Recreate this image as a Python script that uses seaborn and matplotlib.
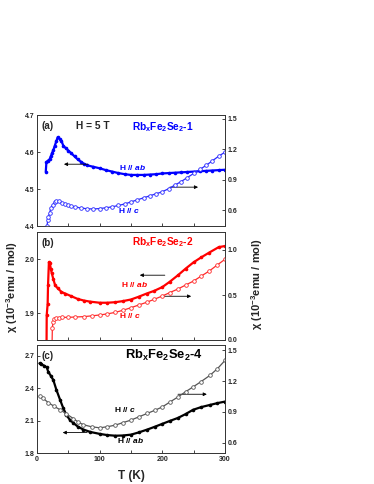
import numpy as np
import matplotlib
matplotlib.use("Agg")
import matplotlib.pyplot as plt
import seaborn as sns

# ---- data ----
# (a) RbxFe2Se2-1
Ta_ab = [14, 15, 17, 20, 22, 24, 26, 28, 31, 33, 36, 39, 42, 46, 50, 55, 60, 65, 70, 75, 80,
         90, 100, 110, 120, 130, 140, 150, 160, 170, 180, 190, 200, 210, 220, 230, 240, 250,
         260, 270, 280, 290, 300]
chi_a_ab = [4.547, 4.572, 4.576, 4.580, 4.588, 4.597, 4.605, 4.615, 4.630, 4.640, 4.635, 4.630,
            4.617, 4.610, 4.604, 4.596, 4.588, 4.580, 4.574, 4.568, 4.564, 4.560, 4.556, 4.551,
            4.547, 4.543, 4.540, 4.538, 4.538, 4.538, 4.539, 4.540, 4.542, 4.543, 4.544, 4.545,
            4.546, 4.547, 4.548, 4.549, 4.550, 4.551, 4.552]
Ta_c = [16, 17, 18, 20, 22, 25, 28, 31, 35, 40, 45, 50, 55, 60, 70, 80, 90, 100, 110, 120, 130,
        140, 150, 160, 170, 180, 190, 200, 210, 220, 230, 240, 250, 260, 270, 280, 290, 300]
chi_a_c = [0.44, 0.50, 0.53, 0.567, 0.617, 0.65, 0.675, 0.689, 0.685, 0.672, 0.662, 0.650, 0.640,
           0.632, 0.620, 0.613, 0.610, 0.615, 0.622, 0.632, 0.645, 0.660, 0.680, 0.700, 0.720,
           0.740, 0.760, 0.780, 0.810, 0.845, 0.880, 0.920, 0.960, 1.000, 1.040, 1.085, 1.130,
           1.170]

# (b) RbxFe2Se2-2
Tb_ab = [15, 15.5, 17, 17.6, 19, 20.5, 22, 23.5, 26, 29, 33, 39, 45, 55, 65, 75, 85, 100, 112,
         125, 137, 150, 162, 175, 187, 200, 212, 225, 237, 250, 262, 275, 290, 300]
chi_b_ab = [1.80, 1.896, 1.917, 1.951, 1.994, 1.992, 1.982, 1.974, 1.963, 1.951, 1.946, 1.939,
            1.936, 1.931, 1.926, 1.923, 1.921, 1.919, 1.919, 1.920, 1.922, 1.925, 1.930, 1.936,
            1.941, 1.948, 1.958, 1.970, 1.982, 1.994, 2.003, 2.012, 2.022, 2.024]
Tb_c = [24, 24.5, 25.5, 27, 30, 35, 40, 50, 60, 75, 87, 100, 112, 125, 137, 150, 162, 175, 187,
        200, 212, 225, 237, 250, 262, 275, 287, 300]
chi_b_c = [-0.05, 0.13, 0.20, 0.235, 0.248, 0.25, 0.251, 0.252, 0.255, 0.26, 0.268, 0.278, 0.29,
           0.307, 0.33, 0.359, 0.388, 0.419, 0.452, 0.489, 0.527, 0.567, 0.61, 0.656, 0.71,
           0.767, 0.83, 0.897]

# (c) RbxFe2Se2-4
Tc_ab = [4, 7, 11, 15.5, 18, 22, 26, 31, 37, 42, 47, 52, 58, 65, 74, 85, 100, 112, 125, 137,
         150, 162, 176, 188, 200, 212, 225, 237, 249, 262, 276, 288, 300]
chi_c_ab = [2.63, 2.62, 2.61, 2.593, 2.552, 2.515, 2.476, 2.384, 2.29, 2.214, 2.152, 2.11, 2.078,
            2.045, 2.017, 1.995, 1.977, 1.966, 1.96, 1.962, 1.97, 1.99, 2.017, 2.043, 2.07,
            2.097, 2.125, 2.16, 2.20, 2.225, 2.245, 2.262, 2.276]
Tc_c = [4, 10, 18, 27, 37, 47, 58, 66, 74, 87, 100, 112, 125, 137, 150, 162, 176, 188, 200, 212,
        225, 237, 249, 262, 276, 288, 300]
chi_c_c = [1.055, 1.03, 0.99, 0.955, 0.92, 0.88, 0.835, 0.80, 0.775, 0.755, 0.745, 0.755, 0.771,
           0.795, 0.82, 0.85, 0.885, 0.915, 0.948, 0.995, 1.045, 1.095, 1.142, 1.195, 1.255,
           1.32, 1.40]

x_ticks = [0, 100, 200, 300]

sns.set_style("ticks")
plt.rcParams['font.family'] = ['Liberation Sans', 'DejaVu Sans']
plt.rcParams['font.weight'] = 'bold'
plt.rcParams['mathtext.fontset'] = 'custom'
plt.rcParams['mathtext.rm'] = 'Liberation Sans:bold'
plt.rcParams['mathtext.it'] = 'Liberation Sans:italic:bold'
plt.rcParams['mathtext.bf'] = 'Liberation Sans:bold'

fig = plt.figure(figsize=(3.74, 4.84), dpi=100)
L, W = 37 / 374, 188 / 374
boxes = [(1 - 226 / 484, 111 / 484), (1 - 340 / 484, 108 / 484), (1 - 453 / 484, 108 / 484)]

panels = [
    dict(T_ab=Ta_ab, ab=chi_a_ab, T_c=Ta_c, c=chi_a_c, color='#0000ff', c_color='#2a2aff',
         lim=(4.4, 4.7), lticks=[4.4, 4.5, 4.6, 4.7], rlim=(0.443, 1.535),
         rticks=[0.6, 0.9, 1.2, 1.5], fmt='%.1f', rfmt='%.1f',
         tag='(a)', title=r'Rb$_\mathrm{x}$Fe$_\mathrm{2}$Se$_\mathrm{2}$-1', tsize=7.3,
         tpos=(0.668, 0.895), ab_txt=(0.51, 0.53), c_txt=(0.49, 0.14),
         larrow=((43, 4.567), (81, 4.567)), rarrow=((257, 4.505), (212, 4.505))),
    dict(T_ab=Tb_ab, ab=chi_b_ab, T_c=Tb_c, c=chi_b_c, color='#ff0000', c_color='#ff2a2a',
         lim=(1.85, 2.05), lticks=[1.9, 2.0], rlim=(0.0, 1.2),
         rticks=[0.0, 0.5, 1.0], fmt='%.1f', rfmt='%.1f',
         tag='(b)', title=r'Rb$_\mathrm{x}$Fe$_\mathrm{2}$Se$_\mathrm{2}$-2', tsize=7.3,
         tpos=(0.668, 0.91), ab_txt=(0.516, 0.51), c_txt=(0.495, 0.23),
         larrow=((164, 1.970), (204, 1.970)), rarrow=((246, 1.931), (201, 1.931))),
    dict(T_ab=Tc_ab, ab=chi_c_ab, T_c=Tc_c, c=chi_c_c, color='black', c_color='#555555',
         lim=(1.8, 2.8), lticks=[1.8, 2.1, 2.4, 2.7], rlim=(0.5, 1.55),
         rticks=[0.6, 0.9, 1.2, 1.5], fmt='%.1f', rfmt='%.1f',
         tag='(c)', title=r'Rb$_\mathrm{x}$Fe$_\mathrm{2}$Se$_\mathrm{2}$-4', tsize=9.3,
         tpos=(0.676, 0.90), ab_txt=(0.497, 0.12), c_txt=(0.468, 0.40),
         larrow=((41, 1.989), (80, 1.989)), rarrow=((271, 2.344), (225, 2.344))),
]

for i, (p, (y0, h)) in enumerate(zip(panels, boxes)):
    ax = fig.add_axes([L, y0, W, h])
    ax2 = ax.twinx()
    sns.lineplot(x=p['T_ab'], y=p['ab'], ax=ax, color=p['color'], lw=1.6, marker='o',
                 markersize=2.6, markeredgewidth=0, sort=False, estimator=None)
    sns.lineplot(x=p['T_c'], y=p['c'], ax=ax2, color=p['c_color'], lw=0.9, marker='o',
                 markersize=2.6, markerfacecolor='white', markeredgecolor=p['c_color'],
                 markeredgewidth=0.6, sort=False, estimator=None)
    ax.set_xlim(0, 300)
    ax.set_ylim(*p['lim'])
    ax2.set_ylim(*p['rlim'])
    ax.set_yticks(p['lticks'])
    ax.set_yticklabels([p['fmt'] % v for v in p['lticks']])
    ax2.set_yticks(p['rticks'])
    ax2.set_yticklabels([p['rfmt'] % v for v in p['rticks']])
    ax.set_xticks(x_ticks)
    ax.set_xticks([50, 150, 250], minor=True)
    if i < 2:
        ax.set_xticklabels([])
    ax.tick_params(axis='both', which='both', direction='in', length=2.5, width=0.6,
                   labelsize=5, pad=2)
    ax2.tick_params(axis='y', direction='in', length=2.5, width=0.6, labelsize=5, pad=2)
    for a in (ax, ax2):
        for s in a.spines.values():
            s.set_linewidth(0.6)
            s.set_color('#333333')
    ax.set_xlabel('')
    ax.set_ylabel('')
    ax2.set_ylabel('')

    ax.text(0.025, 0.90, p['tag'], transform=ax.transAxes, fontsize=7, ha='left', va='center')
    if i == 0:
        ax.text(0.295, 0.90, 'H = 5 T', transform=ax.transAxes, fontsize=7.3,
                ha='center', va='center')
    ax.text(p['tpos'][0], p['tpos'][1], p['title'], transform=ax.transAxes,
            fontsize=p['tsize'], color=p['color'], ha='center', va='center')
    ax.text(p['ab_txt'][0], p['ab_txt'][1], r'H // $\mathit{ab}$', transform=ax.transAxes,
            fontsize=6, color=p['color'], ha='center', va='center')
    ax.text(p['c_txt'][0], p['c_txt'][1], r'H // $\mathit{c}$', transform=ax.transAxes,
            fontsize=6, color=p['color'], ha='center', va='center')
    for head, tail in (p['larrow'], p['rarrow']):
        ax.annotate('', xy=head, xytext=tail,
                    arrowprops=dict(arrowstyle='-|>', color='black', lw=0.6,
                                    mutation_scale=5, shrinkA=0, shrinkB=0))

fig.text(131 / 374, 1 - 476 / 484, 'T (K)', fontsize=8.5, ha='center', va='center')
fig.text(12 / 374, 1 - 287 / 484, 'χ (10$^{\\mathrm{-3}}$emu / mol)', fontsize=8,
         rotation=90, ha='center', va='center')
fig.text(257 / 374, 1 - 284 / 484, 'χ (10$^{\\mathrm{-3}}$emu / mol)', fontsize=8,
         rotation=90, ha='center', va='center')

fig.savefig('out.png', dpi=100)
